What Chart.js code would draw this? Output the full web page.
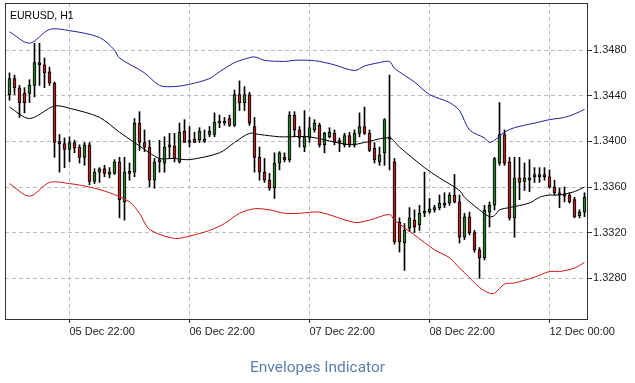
<!DOCTYPE html>
<html>
<head>
<meta charset="utf-8">
<script src="https://cdn.jsdelivr.net/npm/chart.js@4.4.0/dist/chart.umd.min.js"></script>
<style>
  body { margin: 0; background: #fff; }
  #wrap { position: relative; width: 635px; height: 383px; }
  #caption {
    position: absolute; left: 0; top: 360px; width: 635px;
    text-align: center; font: 15.5px Roboto, sans-serif; line-height: 15.5px;
    color: #5a80b0;
  }
</style>
</head>
<body>
<div id="wrap">
  <canvas id="chart" width="635" height="383"></canvas>
  <div id="caption">Envelopes Indicator</div>
</div>
<script>
// Velas horarias EURUSD (una por hora, indice 0..115)
const candleOpen = [
  1.3441, 1.3455, 1.3447, 1.3442, 1.3442, 1.3449, 1.3469, 1.3467, 1.3461, 1.3451,
  1.3399, 1.3398, 1.3393, 1.3399, 1.3395, 1.3386, 1.3397, 1.3365, 1.3373, 1.3376,
  1.3371, 1.3372, 1.3382, 1.3347, 1.3373, 1.3373, 1.3416, 1.3399, 1.3395, 1.3366,
  1.3384, 1.3381, 1.3395, 1.3396, 1.3382, 1.3409, 1.3399, 1.3402, 1.3401, 1.3400,
  1.3406, 1.3406, 1.3417, 1.3416, 1.3420, 1.3414, 1.3441, 1.3434, 1.3441, 1.3413,
  1.3386, 1.3373, 1.3366, 1.3359, 1.3381, 1.3386, 1.3384, 1.3423, 1.3410, 1.3395,
  1.3403, 1.3410, 1.3414, 1.3397, 1.3404, 1.3407, 1.3400, 1.3397, 1.3405, 1.3397,
  1.3407, 1.3413, 1.3407, 1.3394, 1.3382, 1.3390, 1.3404, 1.3382, 1.3329, 1.3311,
  1.3324, 1.3331, 1.3327, 1.3337, 1.3338, 1.3340, 1.3342, 1.3344, 1.3346, 1.3353,
  1.3347, 1.3316, 1.3334, 1.3320, 1.3305, 1.3298, 1.3338, 1.3344, 1.3381, 1.3406,
  1.3382, 1.3333, 1.3368, 1.3365, 1.3366, 1.3369, 1.3369, 1.3371, 1.3369, 1.3360,
  1.3355, 1.3354, 1.3353, 1.3349, 1.3335, 1.3338
];
const candleHigh = [
  1.3460, 1.3458, 1.3449, 1.3447, 1.3454, 1.3486, 1.3486, 1.3473, 1.3465, 1.3452,
  1.3406, 1.3403, 1.3404, 1.3401, 1.3397, 1.3399, 1.3399, 1.3376, 1.3377, 1.3379,
  1.3377, 1.3384, 1.3386, 1.3386, 1.3381, 1.3420, 1.3426, 1.3410, 1.3401, 1.3385,
  1.3401, 1.3404, 1.3407, 1.3407, 1.3416, 1.3419, 1.3413, 1.3408, 1.3412, 1.3410,
  1.3413, 1.3425, 1.3423, 1.3421, 1.3423, 1.3445, 1.3453, 1.3448, 1.3443, 1.3421,
  1.3395, 1.3385, 1.3372, 1.3390, 1.3391, 1.3390, 1.3426, 1.3426, 1.3413, 1.3427,
  1.3421, 1.3419, 1.3416, 1.3408, 1.3412, 1.3410, 1.3403, 1.3407, 1.3408, 1.3410,
  1.3425, 1.3430, 1.3410, 1.3399, 1.3395, 1.3420, 1.3458, 1.3385, 1.3333, 1.3328,
  1.3342, 1.3340, 1.3344, 1.3373, 1.3350, 1.3344, 1.3353, 1.3355, 1.3355, 1.3371,
  1.3353, 1.3337, 1.3338, 1.3322, 1.3307, 1.3344, 1.3347, 1.3386, 1.3434, 1.3410,
  1.3386, 1.3386, 1.3386, 1.3381, 1.3384, 1.3377, 1.3377, 1.3377, 1.3375, 1.3366,
  1.3359, 1.3360, 1.3355, 1.3351, 1.3340, 1.3355
];
const candleLow = [
  1.3436, 1.3441, 1.3421, 1.3425, 1.3434, 1.3439, 1.3449, 1.3447, 1.3449, 1.3386,
  1.3373, 1.3377, 1.3382, 1.3390, 1.3381, 1.3379, 1.3362, 1.3363, 1.3364, 1.3369,
  1.3368, 1.3371, 1.3333, 1.3331, 1.3366, 1.3369, 1.3392, 1.3391, 1.3360, 1.3359,
  1.3373, 1.3373, 1.3385, 1.3382, 1.3381, 1.3399, 1.3395, 1.3399, 1.3399, 1.3399,
  1.3404, 1.3404, 1.3412, 1.3414, 1.3413, 1.3413, 1.3427, 1.3427, 1.3414, 1.3373,
  1.3366, 1.3364, 1.3357, 1.3350, 1.3375, 1.3382, 1.3382, 1.3404, 1.3395, 1.3391,
  1.3399, 1.3408, 1.3395, 1.3390, 1.3403, 1.3397, 1.3391, 1.3395, 1.3395, 1.3395,
  1.3404, 1.3406, 1.3391, 1.3381, 1.3379, 1.3379, 1.3375, 1.3310, 1.3303, 1.3287,
  1.3321, 1.3320, 1.3322, 1.3334, 1.3337, 1.3338, 1.3340, 1.3342, 1.3344, 1.3346,
  1.3311, 1.3314, 1.3318, 1.3303, 1.3280, 1.3296, 1.3325, 1.3340, 1.3379, 1.3379,
  1.3331, 1.3316, 1.3349, 1.3357, 1.3356, 1.3364, 1.3364, 1.3366, 1.3359, 1.3353,
  1.3342, 1.3347, 1.3346, 1.3333, 1.3333, 1.3334
];
const candleClose = [
  1.3455, 1.3447, 1.3434, 1.3434, 1.3449, 1.3469, 1.3467, 1.3460, 1.3451, 1.3399,
  1.3398, 1.3393, 1.3399, 1.3394, 1.3386, 1.3397, 1.3365, 1.3373, 1.3376, 1.3372,
  1.3373, 1.3382, 1.3349, 1.3373, 1.3372, 1.3416, 1.3399, 1.3395, 1.3366, 1.3382,
  1.3382, 1.3395, 1.3397, 1.3385, 1.3408, 1.3399, 1.3400, 1.3399, 1.3409, 1.3402,
  1.3409, 1.3417, 1.3416, 1.3417, 1.3414, 1.3441, 1.3434, 1.3441, 1.3416, 1.3386,
  1.3373, 1.3366, 1.3359, 1.3381, 1.3390, 1.3384, 1.3423, 1.3410, 1.3403, 1.3404,
  1.3412, 1.3416, 1.3397, 1.3407, 1.3408, 1.3399, 1.3399, 1.3405, 1.3397, 1.3407,
  1.3413, 1.3407, 1.3392, 1.3384, 1.3388, 1.3419, 1.3402, 1.3312, 1.3312, 1.3322,
  1.3333, 1.3325, 1.3337, 1.3338, 1.3341, 1.3342, 1.3346, 1.3346, 1.3353, 1.3347,
  1.3316, 1.3334, 1.3320, 1.3305, 1.3298, 1.3340, 1.3344, 1.3385, 1.3406, 1.3381,
  1.3333, 1.3368, 1.3364, 1.3368, 1.3368, 1.3371, 1.3371, 1.3369, 1.3360, 1.3355,
  1.3353, 1.3352, 1.3347, 1.3334, 1.3338, 1.3351
];

// Envelopes: banda superior, media y banda inferior (indice de vela, valor)
const upperIdx = [0, 4, 8, 12, 18, 21, 22, 27, 30, 33, 36, 40, 42, 45, 47, 49, 51, 55, 57, 60,
  62, 65, 69, 71, 74, 76, 77, 81, 84, 88, 90, 92, 95, 96, 97, 99, 101, 105, 108, 111, 113, 115];
const upperVal = [1.3496, 1.3486, 1.3498, 1.3497, 1.3491, 1.3480, 1.3473, 1.3460, 1.3449, 1.3448,
  1.3450, 1.3455, 1.3461, 1.3469, 1.3472, 1.3474, 1.3471, 1.3470, 1.3471, 1.3471,
  1.3470, 1.3467, 1.3462, 1.3466, 1.3469, 1.3470, 1.3464, 1.3452, 1.3441, 1.3434,
  1.3427, 1.3410, 1.3403, 1.3399, 1.3401, 1.3408, 1.3412, 1.3416, 1.3419, 1.3421, 1.3424, 1.3428];

const middleIdx = [0, 4, 9, 12, 18, 22, 25, 28, 30, 33, 36, 42, 45, 48, 50, 54, 56, 60, 68, 71,
  76, 78, 83, 86, 90, 91, 94, 96, 97, 98, 100, 104, 106, 108, 110, 113, 115];
const middleVal = [1.3430, 1.3420, 1.3431, 1.3429, 1.3421, 1.3408, 1.3399, 1.3390, 1.3385, 1.3385,
  1.3384, 1.3390, 1.3399, 1.3407, 1.3406, 1.3404, 1.3404, 1.3404, 1.3397, 1.3399,
  1.3403, 1.3395, 1.3377, 1.3368, 1.3357, 1.3351, 1.3340, 1.3334, 1.3335, 1.3340,
  1.3342, 1.3346, 1.3351, 1.3353, 1.3353, 1.3356, 1.3360];

const lowerIdx = [0, 4, 8, 12, 16, 20, 24, 26, 28, 33, 36, 40, 43, 46, 49, 52, 55, 58, 62, 69,
  72, 76, 77, 81, 85, 88, 90, 91, 94, 96, 97, 99, 101, 105, 108, 110, 113, 115];
const lowerVal = [1.3363, 1.3352, 1.3364, 1.3363, 1.3360, 1.3355, 1.3347, 1.3337, 1.3323, 1.3315,
  1.3317, 1.3322, 1.3328, 1.3337, 1.3341, 1.3340, 1.3337, 1.3337, 1.3338, 1.3329,
  1.3331, 1.3336, 1.3331, 1.3318, 1.3305, 1.3298, 1.3289, 1.3285, 1.3272, 1.3267,
  1.3267, 1.3275, 1.3276, 1.3281, 1.3286, 1.3286, 1.3289, 1.3294];

// Etiquetas de los ejes
const xTickIndex = [12, 36, 60, 84, 108];
const xTickText = ["05 Dec 22:00", "06 Dec 22:00", "07 Dec 22:00", "08 Dec 22:00", "12 Dec 00:00"];
const yTickValues = [1.3280, 1.3320, 1.3360, 1.3400, 1.3440, 1.3480];
const chartTitle = "EURUSD, H1";

const UP_COLOR = "#2b7a2b";
const DOWN_COLOR = "#b02222";
const GRID_COLOR = "#bdbdbd";
const AXIS_FONT = { family: "'Liberation Sans', Arial, sans-serif", size: 11 };

const bodyData = candleOpen.map((o, i) => ({ x: i, y: [o, candleClose[i]] }));
const wickData = candleOpen.map((o, i) => ({ x: i, y: [candleLow[i], candleHigh[i]] }));
const toPoints = (idx, vals) => idx.map((x, i) => ({ x, y: vals[i] }));

// Marco del area de trazado y el simbolo arriba a la izquierda
const frameAndTitle = {
  id: "frameAndTitle",
  afterDraw(chart) {
    const { ctx, chartArea } = chart;
    ctx.save();
    ctx.strokeStyle = "#333";
    ctx.lineWidth = 1;
    ctx.strokeRect(Math.round(chartArea.left) + 0.5, Math.round(chartArea.top) + 0.5,
      Math.round(chartArea.width), Math.round(chartArea.height));
    ctx.fillStyle = "#000";
    ctx.font = "10.5px 'Liberation Sans', Arial, sans-serif";
    ctx.textBaseline = "alphabetic";
    ctx.fillText(chartTitle, chartArea.left + 5, chartArea.top + 16);
    ctx.restore();
  }
};

const lineStyle = { type: "line", borderWidth: 1, pointRadius: 0, tension: 0.3, order: 0 };

new Chart(document.getElementById("chart"), {
  type: "bar",
  data: {
    datasets: [
      { ...lineStyle, label: "Upper", data: toPoints(upperIdx, upperVal), borderColor: "#1f1fa8" },
      { ...lineStyle, label: "Middle", data: toPoints(middleIdx, middleVal), borderColor: "#000000" },
      { ...lineStyle, label: "Lower", data: toPoints(lowerIdx, lowerVal), borderColor: "#d01515" },
      {
        type: "bar", label: "Body", data: bodyData, order: 1,
        backgroundColor: c => candleClose[c.dataIndex] >= candleOpen[c.dataIndex] ? UP_COLOR : DOWN_COLOR,
        borderColor: "#000", borderWidth: 1, borderSkipped: false,
        barThickness: 3, minBarLength: 2, grouped: false
      },
      {
        type: "bar", label: "Wick", data: wickData, order: 2,
        backgroundColor: "#000", barThickness: 1, grouped: false
      }
    ]
  },
  options: {
    responsive: false,
    animation: false,
    layout: { padding: { top: 3, left: 5, right: 0, bottom: 0 } },
    plugins: { legend: { display: false }, tooltip: { enabled: false } },
    scales: {
      x: {
        type: "linear", min: -0.9, max: 115.5, offset: false,
        afterBuildTicks: s => { s.ticks = xTickIndex.map(v => ({ value: v })); },
        afterFit: s => { s.height = 64; s.paddingLeft = 0; s.paddingRight = 0; },
        ticks: {
          align: "start", padding: 2, color: "#222", font: AXIS_FONT,
          autoSkip: false, maxRotation: 0,
          callback: v => xTickText[xTickIndex.indexOf(v)] || ""
        },
        grid: { offset: false, color: GRID_COLOR, tickColor: "#333", tickLength: 4, tickBorderDash: [] },
        border: { display: false, dash: [4, 3] }
      },
      y: {
        position: "right", min: 1.32444, max: 1.35212,
        afterBuildTicks: s => { s.ticks = yTickValues.map(v => ({ value: v })); },
        afterFit: s => { s.width = 48; s.paddingTop = 0; s.paddingBottom = 0; },
        ticks: { padding: 1, color: "#222", font: AXIS_FONT, callback: v => v.toFixed(4) },
        grid: { color: GRID_COLOR, tickColor: "#333", tickLength: 5, tickBorderDash: [] },
        border: { display: false, dash: [4, 3] }
      }
    }
  },
  plugins: [frameAndTitle]
});
</script>
</body>
</html>
